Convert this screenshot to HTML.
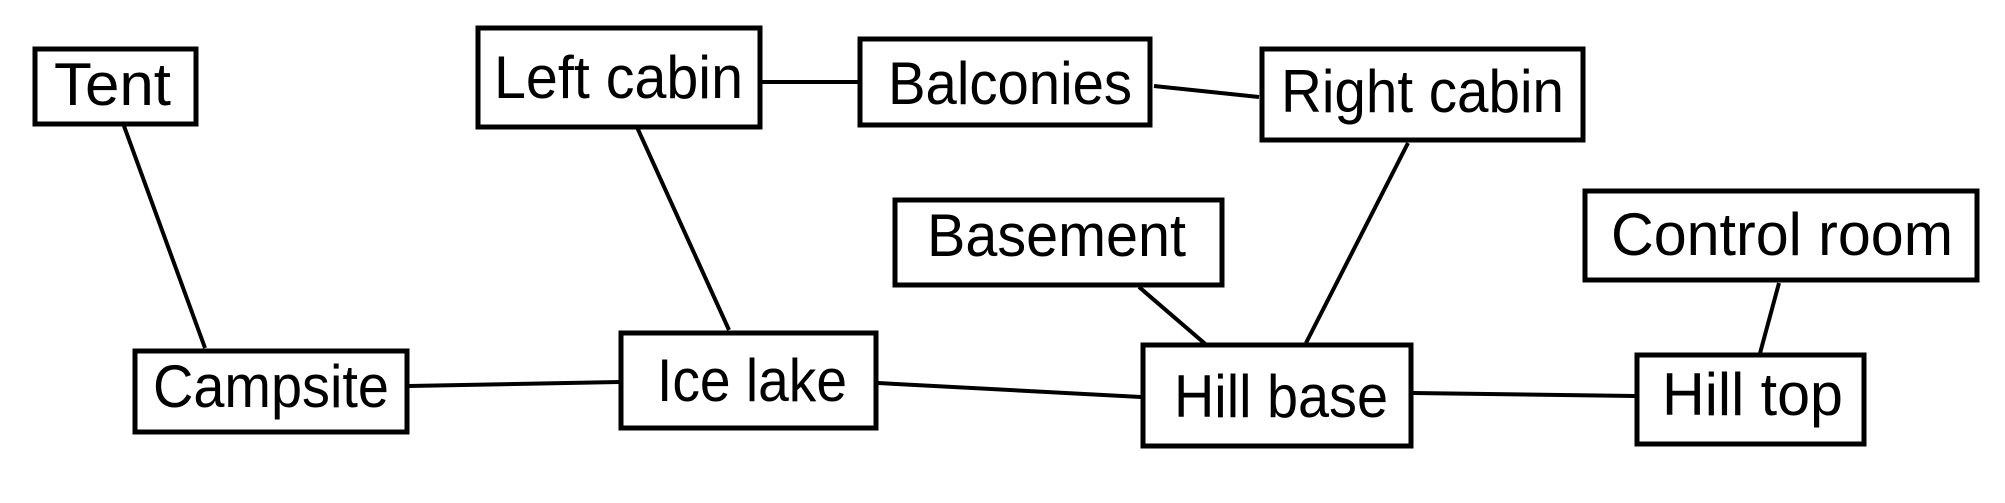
<!DOCTYPE html>
<html><head><meta charset="utf-8"><style>
html,body{margin:0;padding:0;background:#fff;}
svg{display:block;}
text{font-family:"Liberation Sans",sans-serif;font-size:60px;fill:#000;}
</style></head><body>
<svg width="2005" height="503" viewBox="0 0 2005 503" xmlns="http://www.w3.org/2000/svg">
<g stroke="#000" stroke-width="4" fill="none">
<line x1="124" y1="126" x2="205" y2="348"/>
<line x1="636" y1="125" x2="729" y2="330"/>
<line x1="762" y1="82" x2="858" y2="82"/>
<line x1="1154" y1="86" x2="1259" y2="97"/>
<line x1="409" y1="386" x2="619" y2="382"/>
<line x1="878" y1="383" x2="1141" y2="397"/>
<line x1="1139" y1="287" x2="1210" y2="348"/>
<line x1="1408" y1="143" x2="1306" y2="343"/>
<line x1="1413" y1="393" x2="1635" y2="396"/>
<line x1="1779" y1="283" x2="1759" y2="357"/>
</g>
<g stroke="#000" stroke-width="5" fill="#fff">
<rect x="35" y="49" width="161" height="75"/>
<rect x="478" y="28" width="282" height="99"/>
<rect x="860" y="39" width="290" height="86"/>
<rect x="1262" y="49" width="321" height="91"/>
<rect x="895" y="200" width="327" height="85"/>
<rect x="1585" y="191" width="392" height="89"/>
<rect x="135" y="351" width="272" height="81"/>
<rect x="621" y="333" width="255" height="95"/>
<rect x="1143" y="345" width="268" height="101"/>
<rect x="1637" y="355" width="227" height="89"/>
</g>
<text x="54" y="105" textLength="117" lengthAdjust="spacingAndGlyphs">Tent</text>
<text x="494" y="98" textLength="249" lengthAdjust="spacingAndGlyphs">Left cabin</text>
<text x="888" y="104" textLength="244" lengthAdjust="spacingAndGlyphs">Balconies</text>
<text x="1281" y="112" textLength="283" lengthAdjust="spacingAndGlyphs">Right cabin</text>
<text x="927" y="256" textLength="259" lengthAdjust="spacingAndGlyphs">Basement</text>
<text x="1611" y="255" textLength="342" lengthAdjust="spacingAndGlyphs">Control room</text>
<text x="153" y="407" textLength="236" lengthAdjust="spacingAndGlyphs">Campsite</text>
<text x="657" y="401" textLength="190" lengthAdjust="spacingAndGlyphs">Ice lake</text>
<text x="1174" y="417" textLength="214" lengthAdjust="spacingAndGlyphs">Hill base</text>
<text x="1662" y="415" textLength="181" lengthAdjust="spacingAndGlyphs">Hill top</text>
</svg>
</body></html>
